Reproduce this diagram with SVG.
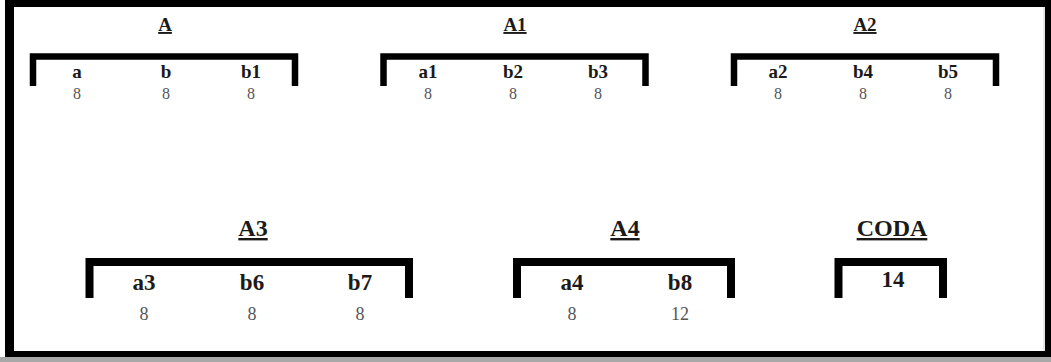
<svg xmlns="http://www.w3.org/2000/svg" width="1051" height="362" viewBox="0 0 1051 362">
<style>
.title{font-family:"Liberation Serif","Times New Roman",serif;font-weight:bold;text-anchor:middle;fill:#1c1a18;text-decoration:underline}
.lbl{font-family:"Liberation Serif","Times New Roman",serif;font-weight:bold;text-anchor:middle;fill:#1c1a18}
.num{font-family:"Liberation Serif","Times New Roman",serif;text-anchor:middle;fill:#555}
.br1{fill:none;stroke:#000;stroke-width:6.5;stroke-linejoin:miter}
.br2{fill:none;stroke:#000;stroke-width:8;stroke-linejoin:miter}
.r1 .title{font-size:19px}
.r1 .lbl{font-size:19px}
.r1 .num{font-size:16px}
.r2 .title{font-size:24px}
.r2 .lbl{font-size:23px}
.r2 .num{font-size:18px}
</style>
<rect x="0" y="0" width="1051" height="362" fill="#fff"/>
<rect x="0" y="357" width="1051" height="5" fill="#a8a8a8"/>
<path d="M5,0 H1051 V357 H5 Z M14,7 V351 H1045 V7 Z" fill="#000" fill-rule="evenodd"/>
<line x1="1044" y1="7" x2="1044" y2="351" stroke="#ccc" stroke-width="1"/>
<g id="A" class="r1">
<text class="title" x="165" y="31">A</text>
<path class="br1" d="M33,86 V56.5 H295 V86"/>
<text class="lbl" x="77" y="78">a</text>
<text class="lbl" x="166" y="78">b</text>
<text class="lbl" x="251" y="78">b1</text>
<text class="num" x="77" y="99">8</text>
<text class="num" x="166" y="99">8</text>
<text class="num" x="251" y="99">8</text>
</g>
<g id="A1" class="r1">
<text class="title" x="515" y="31">A1</text>
<path class="br1" d="M383.5,86 V56.5 H645.5 V86"/>
<text class="lbl" x="428" y="78">a1</text>
<text class="lbl" x="513" y="78">b2</text>
<text class="lbl" x="598" y="78">b3</text>
<text class="num" x="428" y="99">8</text>
<text class="num" x="513" y="99">8</text>
<text class="num" x="598" y="99">8</text>
</g>
<g id="A2" class="r1">
<text class="title" x="865" y="31">A2</text>
<path class="br1" d="M734,86 V56.5 H996 V86"/>
<text class="lbl" x="778" y="78">a2</text>
<text class="lbl" x="863" y="78">b4</text>
<text class="lbl" x="948" y="78">b5</text>
<text class="num" x="778" y="99">8</text>
<text class="num" x="863" y="99">8</text>
<text class="num" x="948" y="99">8</text>
</g>
<g id="A3" class="r2">
<text class="title" x="253" y="236">A3</text>
<path class="br2" d="M89.5,298 V262 H409 V298"/>
<text class="lbl" x="144" y="290">a3</text>
<text class="lbl" x="252" y="290">b6</text>
<text class="lbl" x="360" y="290">b7</text>
<text class="num" x="144" y="320">8</text>
<text class="num" x="252" y="320">8</text>
<text class="num" x="360" y="320">8</text>
</g>
<g id="A4" class="r2">
<text class="title" x="625" y="236">A4</text>
<path class="br2" d="M517,298 V262 H731 V298"/>
<text class="lbl" x="572" y="290">a4</text>
<text class="lbl" x="680" y="290">b8</text>
<text class="num" x="572" y="320">8</text>
<text class="num" x="680" y="320">12</text>
</g>
<g id="CODA" class="r2">
<text class="title" x="892" y="236">CODA</text>
<path class="br2" d="M838.5,298 V262 H943 V298"/>
<text class="lbl" x="893" y="287">14</text>
</g>
</svg>
